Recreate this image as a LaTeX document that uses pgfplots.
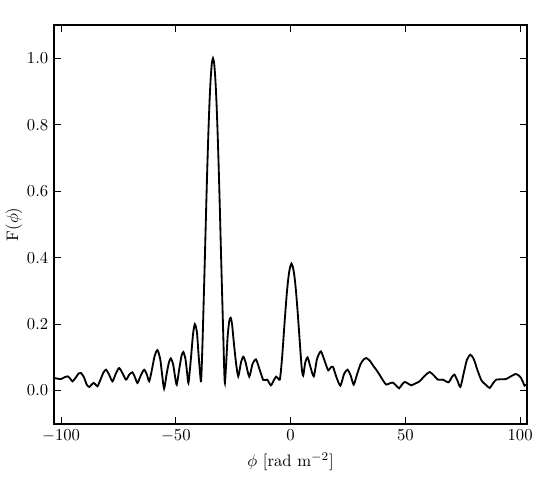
\documentclass[border=0pt]{standalone}
\usepackage{pgfplots}
\pgfplotsset{compat=1.18}

\pgfplotstableread{
x y
-103 0.038
-101.5 0.036
-100 0.035
-98.5 0.040
-97.1 0.043
-96 0.036
-95 0.028
-93.5 0.040
-92.3 0.052
-91.3 0.053
-90 0.040
-88.8 0.018
-87.7 0.011
-86.7 0.018
-85.8 0.023
-84.9 0.018
-84.1 0.013
-82.7 0.035
-81.5 0.055
-80.4 0.063
-79.2 0.050
-77.6 0.028
-76.2 0.050
-74.7 0.068
-73.2 0.052
-71.7 0.033
-70.3 0.048
-68.9 0.055
-67.8 0.040
-66.7 0.023
-65.3 0.045
-63.8 0.063
-62.6 0.048
-61.6 0.028
-60.5 0.060
-59.2 0.105
-58.0 0.122
-56.8 0.095
-56.0 0.050
-55.1 0.006
-54.0 0.050
-53.0 0.085
-52.2 0.097
-51.2 0.080
-50.4 0.045
-49.6 0.018
-48.5 0.065
-47.5 0.105
-46.7 0.116
-45.8 0.095
-45.1 0.055
-44.5 0.023
-43.5 0.090
-42.5 0.170
-41.7 0.200
-40.8 0.175
-40.0 0.100
-39.1 0.028
-38.8 0.055
-38.3 0.160
-37.8 0.284
-37.3 0.410
-36.8 0.543
-36.3 0.667
-35.8 0.778
-35.3 0.871
-34.8 0.940
-34.3 0.985
-33.8 1.000
-33.3 0.985
-32.8 0.940
-32.3 0.871
-31.8 0.778
-31.3 0.667
-30.8 0.543
-30.3 0.410
-29.8 0.284
-29.3 0.160
-28.9 0.060
-28.6 0.023
-28.0 0.090
-27.4 0.165
-26.7 0.210
-26.1 0.219
-25.5 0.200
-24.8 0.150
-23.8 0.085
-22.8 0.043
-21.6 0.085
-20.6 0.102
-19.6 0.085
-18.0 0.042
-16.6 0.080
-15.1 0.094
-13.8 0.070
-11.9 0.032
-10.2 0.033
-8.6 0.016
-7.4 0.030
-6.3 0.042
-5.3 0.035
-4.7 0.033
-4.2 0.060
-3.6 0.108
-3.1 0.157
-2.6 0.206
-2.1 0.253
-1.6 0.296
-1.1 0.331
-0.6 0.358
-0.1 0.374
0.4 0.382
0.9 0.374
1.4 0.358
1.9 0.331
2.4 0.296
2.9 0.253
3.4 0.206
3.9 0.157
4.4 0.108
4.9 0.065
5.5 0.045
6.4 0.085
7.4 0.100
8.5 0.075
10.1 0.043
11.5 0.095
13.2 0.118
14.8 0.090
16.4 0.061
17.5 0.070
18.5 0.071
20.0 0.040
21.7 0.015
23.3 0.050
24.8 0.063
26.2 0.045
27.5 0.018
29.0 0.050
30.5 0.080
32.0 0.095
33.0 0.098
34.5 0.090
36.0 0.075
37.4 0.062
39.0 0.045
40.5 0.028
41.7 0.018
43.2 0.022
44.6 0.024
46.0 0.015
47.3 0.007
48.5 0.018
49.7 0.026
51.0 0.022
52.6 0.016
54.5 0.022
56.2 0.028
58.5 0.045
60.6 0.056
62.5 0.045
64.2 0.033
66.3 0.033
68.8 0.025
70.2 0.040
71.4 0.048
72.7 0.030
74.0 0.011
75.5 0.055
76.8 0.092
78.3 0.108
79.8 0.095
81.5 0.060
83.2 0.030
85.0 0.018
86.7 0.008
88.2 0.022
89.6 0.033
92.0 0.034
93.9 0.035
96.0 0.043
98.0 0.050
99.3 0.046
100.4 0.038
101.3 0.025
101.9 0.015
102.6 0.017
}\faraday

\begin{document}
\begin{tikzpicture}
\begin{axis}[
  scale only axis,
  width=283.8pt, height=239.4pt,
  xmin=-103, xmax=103,
  ymin=-0.1, ymax=1.1,
  xtick={-100,-50,0,50,100},
  ytick={0,0.2,0.4,0.6,0.8,1.0},
  yticklabel style={/pgf/number format/fixed, /pgf/number format/precision=1, /pgf/number format/fixed zerofill},
  tick pos=both, tick align=inside,
  major tick length=4pt,
  tick style={black, line width=0.5pt},
  axis line style={line width=0.8pt},
  xlabel={$\phi$ [rad m$^{-2}$]},
  ylabel={F($\phi$)},
  xlabel style={yshift=0pt},
  ylabel style={yshift=-4pt},
]
\addplot[black, line width=1.1pt, smooth, tension=0.4] table[x=x, y=y] {\faraday};
\end{axis}
\path (current axis.south west) ++(-32.4pt,-30pt) coordinate (bl);
\path (current axis.north east) ++(13.8pt,15pt) coordinate (tr);
\path (bl) rectangle (tr);
\end{tikzpicture}
\end{document}
